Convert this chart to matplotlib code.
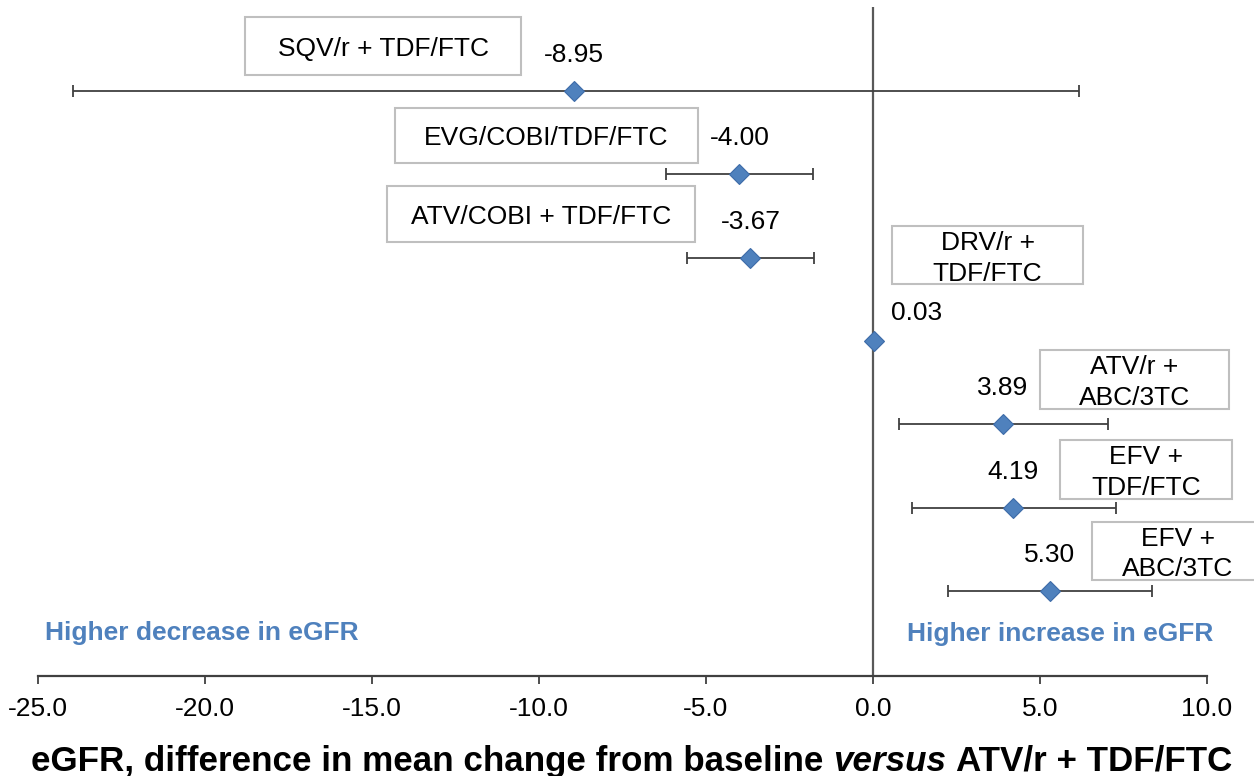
import matplotlib.pyplot as plt
from matplotlib.patches import Rectangle

plt.rcParams['font.family'] = ['Liberation Sans', 'DejaVu Sans']

# data
regimens = ['SQV/r + TDF/FTC', 'EVG/COBI/TDF/FTC', 'ATV/COBI + TDF/FTC',
            'DRV/r +\nTDF/FTC', 'ATV/r +\nABC/3TC', 'EFV +\nTDF/FTC', 'EFV +\nABC/3TC']
diff = [-8.95, -4.00, -3.67, 0.03, 3.89, 4.19, 5.30]
ci_low = [-23.95, -6.21, -5.56, None, 0.78, 1.17, 2.25]
ci_high = [6.17, -1.80, -1.78, None, 7.04, 7.28, 8.35]
xticks = [-25, -20, -15, -10, -5, 0, 5, 10]

# label box layout (x0, x1, y_top, y_bottom) in data units
boxes = [(-18.80, -10.54, -0.89, -0.19),
         (-14.31, -5.24, 0.20, 0.86),
         (-14.55, -5.33, 1.14, 1.81),
         (0.57, 6.29, 1.62, 2.32),
         (5.00, 10.66, 3.11, 3.81),
         (5.60, 10.75, 4.19, 4.89),
         (6.56, 11.70, 5.17, 5.87)]

blue = '#4F81BD'
grey = '#404040'

fig = plt.figure(figsize=(12.54, 7.76), dpi=100)
ax = fig.add_axes([0.0303, 0.1289, 0.9322, 0.862])

rows = list(range(len(diff)))
for i in rows:
    if ci_low[i] is not None:
        ax.errorbar(diff[i], i, xerr=[[diff[i] - ci_low[i]], [ci_high[i] - diff[i]]],
                    fmt='none', ecolor=grey, elinewidth=1.3, capsize=4.5,
                    capthick=1.3, zorder=2)
ax.plot(diff, rows, linestyle='none', marker='D', markersize=10.5,
        markerfacecolor=blue, markeredgecolor='#3D6BA8', markeredgewidth=0.8,
        zorder=4)

ax.axvline(0, color='#595959', linewidth=1.6, zorder=1)

# value labels
for i, v in enumerate(diff):
    if i == 3:
        ax.annotate(f'{v:.2f}', (v, i), xytext=(12, 20), textcoords='offset points',
                    ha='left', va='center', fontsize=19)
    else:
        ax.annotate(f'{v:.2f}', (v, i), xytext=(0, 26), textcoords='offset points',
                    ha='center', va='center', fontsize=19)

# regimen boxes
for name, (x0, x1, yt, yb) in zip(regimens, boxes):
    ax.add_patch(Rectangle((x0, yt), x1 - x0, yb - yt, facecolor='white',
                           edgecolor='#BFBFBF', linewidth=1.5, clip_on=False, zorder=3))
    ax.text((x0 + x1) / 2, (yt + yb) / 2 + 0.035, name, ha='center', va='center',
            fontsize=19, linespacing=1.36, zorder=5, clip_on=False)

ax.text(-24.8, 6.5, 'Higher decrease in eGFR', color=blue, fontsize=19,
        fontweight='bold', ha='left', va='center')
ax.text(10.2, 6.52, 'Higher increase in eGFR', color=blue, fontsize=19,
        fontweight='bold', ha='right', va='center')

ax.set_xlim(-25, 10)
ax.set_ylim(7.02, -1.01)
ax.set_xticks(xticks)
ax.set_xticklabels([f'{t:.1f}' for t in xticks])
ax.set_yticks([])
for s in ['top', 'right', 'left']:
    ax.spines[s].set_visible(False)
ax.spines['bottom'].set_color('#404040')
ax.spines['bottom'].set_linewidth(1.6)
ax.tick_params(axis='x', direction='out', length=6, width=1.3, color='#404040',
               labelsize=19, pad=9)

# x label with italic "versus"
t1 = fig.text(0.02, -0.002, 'eGFR, difference in mean change from baseline',
              fontsize=25.2, fontweight='bold', ha='left', va='bottom')
t2 = ax.annotate('versus', xy=(1, 0), xycoords=t1, xytext=(7, 0),
                 textcoords='offset points', fontsize=25.2, fontweight='bold',
                 fontstyle='italic', ha='left', va='bottom')
t3 = ax.annotate('ATV/r + TDF/FTC', xy=(1, 0), xycoords=t2, xytext=(7, 0),
                 textcoords='offset points', fontsize=25.2, fontweight='bold',
                 ha='left', va='bottom')

# centre the three pieces around x = 632 px
fig.canvas.draw()
r = fig.canvas.get_renderer()
left = t1.get_window_extent(r).x0
right = t3.get_window_extent(r).x1
t1.set_x(0.02 + (632 - (left + right) / 2) / fig.bbox.width)

fig.savefig('out.png', dpi=100)
